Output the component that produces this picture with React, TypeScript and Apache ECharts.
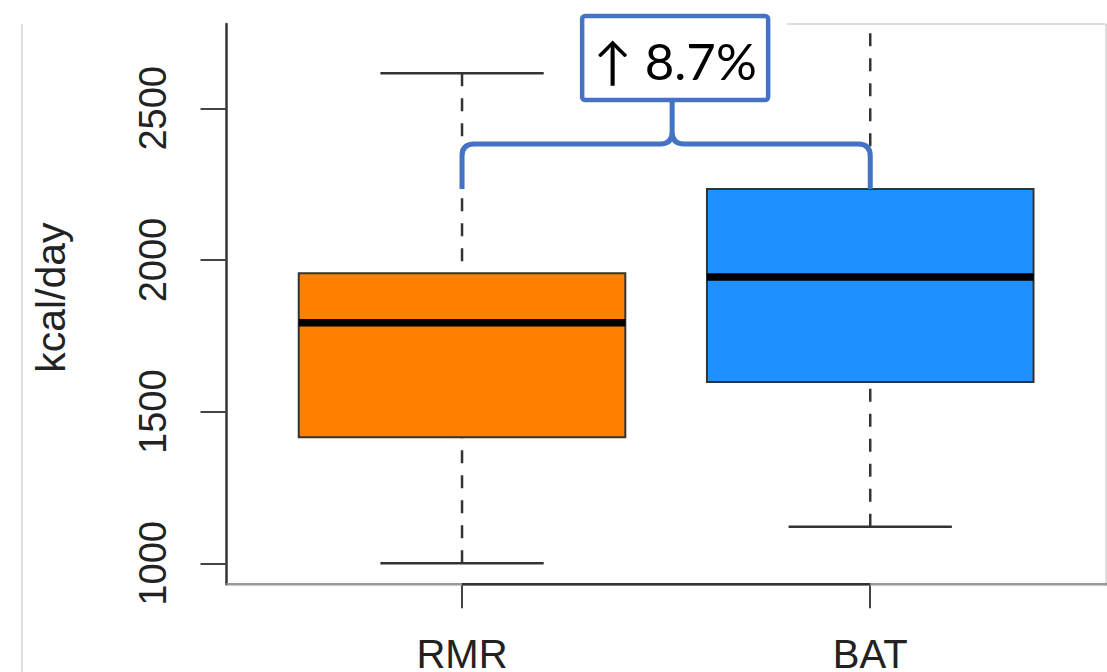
import React, { useEffect, useRef } from "react";
import * as echarts from "echarts";

const categories = ["RMR", "BAT"];
const lowerWhisker = [1000, 1121];
const firstQuartile = [1416, 1598];
const medians = [1793, 1944];
const thirdQuartile = [1956, 2234];
const upperWhisker = [2616, 2830];
const boxColors = ["#FF7F00", "#1E90FF"];
const yTicks = [1000, 1500, 2000, 2500];
const yMin = 931;
const yMax = 2778;
const xMin = 0.423;
const xMax = 2.58;
const annotationText = "↑ 8.7%";
const accent = "#4472C4";

export default function App() {
  const ref = useRef<HTMLDivElement>(null);

  useEffect(() => {
    document.body.style.margin = "0";
    const chart = echarts.init(ref.current!, null, { renderer: "svg" });
    const xPositions = categories.map((_, i) => i + 1);
    const boxData = categories.map((_, i) => [
      xPositions[i],
      lowerWhisker[i],
      firstQuartile[i],
      medians[i],
      thirdQuartile[i],
      upperWhisker[i],
    ]);

    const option: any = {
      animation: false,
      grid: { left: 226.5, right: 0, top: 24, bottom: 87.7, outerBoundsMode: "none" },
      xAxis: {
        type: "value",
        min: xMin,
        max: xMax,
        axisLine: { show: false, onZero: false },
        axisTick: { show: true, length: 24, customValues: xPositions, lineStyle: { color: "#444", width: 2 } },
        axisLabel: {
          customValues: xPositions,
          formatter: (v: number) => categories[Math.round(v) - 1] ?? "",
          margin: 50,
          fontSize: 40,
          fontFamily: "Liberation Sans",
          color: "#222",
        },
        splitLine: { show: false },
      },
      yAxis: {
        type: "value",
        min: yMin,
        max: yMax,
        axisLine: { show: true, lineStyle: { color: "#333", width: 2.5 } },
        axisTick: { show: true, length: 26, customValues: yTicks, lineStyle: { color: "#444", width: 2 } },
        axisLabel: {
          customValues: yTicks,
          formatter: (v: number) => String(v),
          rotate: 90,
          margin: 55,
          fontSize: 38,
          fontFamily: "Liberation Sans",
          color: "#222",
        },
        splitLine: { show: false },
        name: "kcal/day",
        nameLocation: "middle",
        nameRotate: 90,
        nameGap: 155,
        nameTextStyle: { fontSize: 41, fontFamily: "Liberation Sans", color: "#222", padding: [0, 0, 0, 13] },
      },
      graphic: [
        { type: "line", shape: { x1: 22, y1: 24, x2: 22, y2: 672 }, style: { stroke: "#d4d4d4", lineWidth: 1.5 } },
        { type: "line", shape: { x1: 787, y1: 24, x2: 1106, y2: 24 }, style: { stroke: "#d4d4d4", lineWidth: 1.5 } },
        { type: "line", shape: { x1: 1106, y1: 24, x2: 1106, y2: 586 }, style: { stroke: "#d4d4d4", lineWidth: 1.5 } },
      ],
      series: [
        {
          type: "custom",
          name: "baseline",
          clip: false,
          data: [[xPositions[0], xPositions[xPositions.length - 1]]],
          renderItem: (_p: any, api: any) => {
            const s = api.coord([xMin, yMin]);
            const e = api.coord([xMax, yMin]);
            const a = api.coord([api.value(0), yMin]);
            const b = api.coord([api.value(1), yMin]);
            return {
              type: "group",
              children: [
                {
                  type: "line",
                  shape: { x1: s[0], y1: s[1], x2: e[0], y2: e[1] },
                  style: { stroke: "#9a9a9a", lineWidth: 2.5 },
                },
                {
                  type: "line",
                  shape: { x1: a[0], y1: a[1], x2: b[0], y2: b[1] },
                  style: { stroke: "#333", lineWidth: 2.5 },
                },
              ],
            };
          },
        },
        {
          type: "custom",
          name: "boxes",
          clip: true,
          data: boxData,
          renderItem: (params: any, api: any) => {
            const x = api.value(0);
            const lo = api.coord([x, api.value(1)]);
            const q1 = api.coord([x, api.value(2)]);
            const md = api.coord([x, api.value(3)]);
            const q3 = api.coord([x, api.value(4)]);
            const hi = api.coord([x, api.value(5)]);
            const left = api.coord([x - 0.4, api.value(4)])[0];
            const right = api.coord([x + 0.4, api.value(4)])[0];
            const capL = api.coord([x - 0.2, api.value(1)])[0];
            const capR = api.coord([x + 0.2, api.value(1)])[0];
            const cx = lo[0];
            const dash = { stroke: "#333", lineWidth: 2.5, lineDash: [13, 12] };
            const solid = { stroke: "#333", lineWidth: 2.5 };
            return {
              type: "group",
              children: [
                { type: "line", shape: { x1: cx, y1: hi[1], x2: cx, y2: q3[1] }, style: dash },
                { type: "line", shape: { x1: cx, y1: lo[1], x2: cx, y2: q1[1] }, style: dash },
                { type: "line", shape: { x1: capL, y1: hi[1], x2: capR, y2: hi[1] }, style: solid },
                { type: "line", shape: { x1: capL, y1: lo[1], x2: capR, y2: lo[1] }, style: solid },
                {
                  type: "rect",
                  shape: { x: left, y: q3[1], width: right - left, height: q1[1] - q3[1] },
                  style: { fill: boxColors[params.dataIndex], stroke: "#333", lineWidth: 2 },
                },
                {
                  type: "line",
                  shape: { x1: left, y1: md[1], x2: right, y2: md[1] },
                  style: { stroke: "#000", lineWidth: 7.5 },
                },
              ],
            };
          },
        },
        {
          type: "custom",
          name: "annotation",
          clip: false,
          z: 10,
          data: [[xPositions[0], xPositions[1], thirdQuartile[1]]],
          renderItem: (_p: any, api: any) => {
            const p1 = api.coord([api.value(0), api.value(2)]);
            const p2 = api.coord([api.value(1), api.value(2)]);
            const yb = p1[1];
            const hy = yb - 45;
            const mx = (p1[0] + p2[0]) / 2 + 6;
            const peak = hy - 48;
            const r = 12;
            const d =
              `M${p1[0]} ${yb} L${p1[0]} ${hy + r} Q${p1[0]} ${hy} ${p1[0] + r} ${hy} ` +
              `L${mx - r} ${hy} Q${mx} ${hy} ${mx} ${hy - r} L${mx} ${peak} L${mx} ${hy - r} ` +
              `Q${mx} ${hy} ${mx + r} ${hy} L${p2[0] - r} ${hy} Q${p2[0]} ${hy} ${p2[0]} ${hy + r} L${p2[0]} ${yb}`;
            return {
              type: "group",
              children: [
                {
                  type: "path",
                  shape: { pathData: d },
                  style: { stroke: accent, lineWidth: 5, fill: "none", lineJoin: "round" },
                },
                {
                  type: "rect",
                  shape: { x: mx - 90, y: peak - 80, width: 186, height: 84, r: 3 },
                  style: { fill: "#fff", stroke: accent, lineWidth: 4.5 },
                },
                {
                  type: "text",
                  style: {
                    text: annotationText,
                    x: mx + 3,
                    y: peak - 36,
                    align: "center",
                    verticalAlign: "middle",
                    fontSize: 51,
                    fontFamily: "Lato",
                    fill: "#000",
                  },
                },
              ],
            };
          },
        },
      ],
    };

    chart.setOption(option);
    return () => chart.dispose();
  }, []);

  return <div ref={ref} style={{ width: 1107, height: 672 }} />;
}
